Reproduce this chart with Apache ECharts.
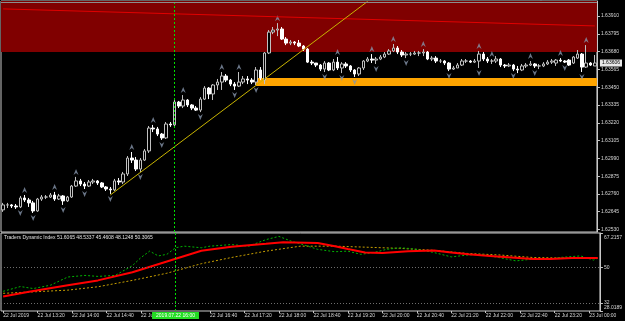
<!DOCTYPE html>
<html>
<head>
<meta charset="utf-8">
<style>
  html, body { margin: 0; padding: 0; background: #000; }
  #chart { width: 625px; height: 321px; }
</style>
<script src="https://cdn.jsdelivr.net/npm/echarts@6/dist/echarts.min.js"></script>
</head>
<body>
<div id="chart"></div>
<script>
  // GBPCAD M5, 22 Jul 12:40 -> 23 Jul 00:10 (139 bars)
  const opens = [1.62657,1.62689,1.62689,1.62682,1.62676,1.62734,1.62721,1.62702,1.62650,1.62727,
    1.62740,1.62740,1.62753,1.62727,1.62747,1.62715,1.62740,1.62811,1.62844,1.62824,
    1.62811,1.62837,1.62844,1.62831,1.62805,1.62792,1.62786,1.62844,1.62837,1.62889,
    1.62992,1.62979,1.62921,1.62979,1.63038,1.63186,1.63180,1.63147,1.63122,1.63212,
    1.63206,1.63354,1.63328,1.63367,1.63335,1.63315,1.63302,1.63373,1.63444,1.63406,
    1.63464,1.63483,1.63522,1.63496,1.63470,1.63457,1.63483,1.63503,1.63496,1.63483,
    1.63561,1.63496,1.63671,1.63806,1.63819,1.63826,1.63761,1.63735,1.63742,1.63735,
    1.63716,1.63696,1.63612,1.63606,1.63593,1.63567,1.63606,1.63561,1.63612,1.63574,
    1.63600,1.63587,1.63561,1.63535,1.63574,1.63619,1.63632,1.63625,1.63632,1.63645,
    1.63664,1.63684,1.63703,1.63677,1.63658,1.63664,1.63664,1.63671,1.63671,1.63677,
    1.63632,1.63638,1.63619,1.63619,1.63606,1.63567,1.63574,1.63593,1.63619,1.63619,
    1.63612,1.63619,1.63664,1.63632,1.63619,1.63619,1.63632,1.63593,1.63587,1.63593,
    1.63567,1.63561,1.63587,1.63593,1.63600,1.63587,1.63587,1.63600,1.63612,1.63606,
    1.63625,1.63619,1.63625,1.63606,1.63638,1.63664,1.63580,1.63606,1.63587];
  const closes = [1.62689,1.62689,1.62682,1.62676,1.62734,1.62721,1.62702,1.62650,1.62727,1.62740,
    1.62740,1.62753,1.62727,1.62747,1.62715,1.62740,1.62811,1.62844,1.62824,1.62811,
    1.62837,1.62844,1.62831,1.62805,1.62792,1.62786,1.62844,1.62837,1.62889,1.62992,
    1.62979,1.62921,1.62979,1.63038,1.63186,1.63180,1.63147,1.63122,1.63212,1.63206,
    1.63354,1.63328,1.63367,1.63335,1.63315,1.63302,1.63373,1.63444,1.63406,1.63464,
    1.63483,1.63522,1.63496,1.63470,1.63457,1.63483,1.63503,1.63496,1.63483,1.63561,
    1.63509,1.63671,1.63806,1.63819,1.63826,1.63761,1.63735,1.63742,1.63735,1.63716,
    1.63696,1.63612,1.63606,1.63593,1.63567,1.63606,1.63561,1.63612,1.63574,1.63600,
    1.63587,1.63561,1.63535,1.63574,1.63619,1.63632,1.63625,1.63632,1.63645,1.63664,
    1.63684,1.63703,1.63677,1.63658,1.63664,1.63664,1.63671,1.63671,1.63677,1.63632,
    1.63638,1.63619,1.63619,1.63606,1.63567,1.63574,1.63593,1.63619,1.63619,1.63612,
    1.63619,1.63664,1.63632,1.63619,1.63619,1.63632,1.63593,1.63587,1.63593,1.63567,
    1.63561,1.63587,1.63593,1.63600,1.63587,1.63587,1.63600,1.63612,1.63619,1.63625,
    1.63619,1.63612,1.63593,1.63645,1.63664,1.63580,1.63606,1.63593,1.63606];
  const lows = [1.62644,1.62669,1.62669,1.62663,1.62669,1.62708,1.62676,1.62637,1.62644,1.62715,
    1.62727,1.62734,1.62715,1.62721,1.62689,1.62708,1.62734,1.62805,1.62811,1.62792,
    1.62805,1.62824,1.62818,1.62798,1.62779,1.62760,1.62779,1.62818,1.62824,1.62876,
    1.62960,1.62908,1.62902,1.62973,1.63025,1.63160,1.63134,1.63109,1.63115,1.63193,
    1.63199,1.63315,1.63315,1.63322,1.63302,1.63296,1.63289,1.63367,1.63373,1.63367,
    1.63432,1.63432,1.63483,1.63457,1.63432,1.63451,1.63470,1.63470,1.63470,1.63464,
    1.63496,1.63470,1.63664,1.63793,1.63780,1.63755,1.63722,1.63722,1.63722,1.63709,
    1.63684,1.63606,1.63593,1.63580,1.63554,1.63548,1.63554,1.63554,1.63561,1.63541,
    1.63574,1.63548,1.63516,1.63522,1.63561,1.63612,1.63606,1.63600,1.63625,1.63638,
    1.63658,1.63677,1.63664,1.63645,1.63638,1.63651,1.63658,1.63651,1.63651,1.63625,
    1.63619,1.63606,1.63606,1.63593,1.63554,1.63561,1.63574,1.63587,1.63606,1.63606,
    1.63606,1.63574,1.63619,1.63606,1.63600,1.63606,1.63580,1.63574,1.63580,1.63554,
    1.63541,1.63554,1.63574,1.63587,1.63574,1.63567,1.63580,1.63593,1.63600,1.63587,
    1.63612,1.63606,1.63587,1.63600,1.63632,1.63548,1.63574,1.63587,1.63587];
  const highs = [1.62702,1.62702,1.62695,1.62695,1.62747,1.62753,1.62734,1.62715,1.62734,1.62753,
    1.62753,1.62766,1.62773,1.62760,1.62753,1.62747,1.62818,1.62870,1.62857,1.62837,
    1.62850,1.62857,1.62850,1.62837,1.62811,1.62805,1.62857,1.62863,1.62902,1.63005,
    1.63031,1.62999,1.62992,1.63050,1.63199,1.63206,1.63193,1.63154,1.63225,1.63225,
    1.63367,1.63361,1.63399,1.63373,1.63341,1.63328,1.63386,1.63457,1.63451,1.63470,
    1.63503,1.63548,1.63535,1.63503,1.63483,1.63548,1.63522,1.63522,1.63509,1.63580,
    1.63580,1.63677,1.63819,1.63839,1.63864,1.63839,1.63774,1.63755,1.63748,1.63755,
    1.63722,1.63703,1.63625,1.63606,1.63600,1.63619,1.63612,1.63632,1.63645,1.63612,
    1.63612,1.63593,1.63567,1.63580,1.63625,1.63645,1.63664,1.63645,1.63658,1.63677,
    1.63696,1.63729,1.63716,1.63690,1.63677,1.63677,1.63684,1.63684,1.63696,1.63684,
    1.63651,1.63651,1.63632,1.63625,1.63612,1.63587,1.63606,1.63632,1.63632,1.63625,
    1.63632,1.63684,1.63677,1.63645,1.63632,1.63651,1.63638,1.63600,1.63606,1.63600,
    1.63587,1.63600,1.63606,1.63619,1.63606,1.63600,1.63612,1.63625,1.63632,1.63632,
    1.63638,1.63625,1.63632,1.63651,1.63690,1.63671,1.63722,1.63612,1.63658];

  // bars carrying a fractal arrow
  const upFractalBars = [5, 12, 17, 30, 35, 42, 51, 55, 64, 78, 86, 91, 98, 111, 114, 123, 130, 136];
  const downFractalBars = [4, 7, 14, 19, 25, 32, 37, 46, 54, 59, 75, 79, 82, 87, 94, 104, 111, 119, 124, 131, 135];

  const priceTicks = [1.62530, 1.62645, 1.62760, 1.62875, 1.62990, 1.63105, 1.63220,
    1.63335, 1.63450, 1.63565, 1.63680, 1.63795, 1.63910];
  const priceMin = 1.62514;
  const priceMax = 1.64007;
  const bidPrice = 1.63606;

  // resistance zone, support band, trend lines
  const redZone = [1.63677, 1.64007];
  const orangeBand = [59, 1.63509, 1.63457];
  const trendLine = [[25, 1.62753], [85, 1.64004]];
  const redLine = [[0, 1.63956], [138, 1.63846]];
  const crossBar = 40;

  // time axis, a label every 8 bars
  const timeTicks = ['22 Jul 2019', '22 Jul 13:20', '22 Jul 14:00', '22 Jul 14:40', '22 Jul 15:20',
    '22 Jul 16:00', '22 Jul 16:40', '22 Jul 17:20', '22 Jul 18:00', '22 Jul 18:40', '22 Jul 19:20',
    '22 Jul 20:00', '22 Jul 20:40', '22 Jul 21:20', '22 Jul 22:00', '22 Jul 22:40', '22 Jul 23:20',
    '23 Jul 00:00'];

  // Traders Dynamic Index, [bar, value]
  const tdiGreen = [[0,37.9],[4,40.3],[7,39.3],[11,41.0],[15,45.1],[19,45.9],[22,45.4],[26,45.9],
    [30,50.8],[32,54.9],[34,58.1],[36,55.7],[38,56.5],[40,59.8],[42,60.6],[46,59.8],[48,60.6],
    [53,61.4],[57,60.6],[61,63.9],[64,65.5],[67,63.0],[69,61.8],[73,59.0],[77,57.8],[80,58.1],
    [83,56.5],[86,57.4],[89,59.0],[92,59.8],[94,59.5],[96,59.0],[100,57.4],[104,55.2],[108,56.2],
    [111,56.5],[115,54.9],[119,53.2],[123,54.1],[127,54.1],[129,54.9],[134,55.7],[137,53.6],[138,54.6]];
  const tdiRed = [[0,35.3],[6,37.7],[15,41.0],[22,43.4],[30,47.5],[38,52.9],[46,58.3],[53,60.3],
    [61,61.8],[65,62.6],[73,62.2],[77,60.6],[80,59.2],[84,57.4],[88,57.2],[94,58.0],[100,58.4],
    [104,57.4],[108,56.5],[113,55.7],[118,54.9],[123,54.1],[127,54.1],[132,54.6],[138,54.6]];
  const tdiYellow = [[0,36.9],[15,38.5],[22,40.2],[30,43.4],[38,47.0],[46,51.8],[53,54.9],[61,58.1],
    [69,60.6],[77,60.6],[84,60.1],[92,59.5],[100,58.5],[108,56.9],[115,56.2],[123,54.9],[131,54.6],[138,54.6]];
  const tdiLevels = [32, 50];
  const tdiMin = 28.0189;
  const tdiMax = 67.2157;
  const tdiTicks = [28.0189, 32, 50, 67.2157];
  const tdiTitle = 'Traders Dynamic Index 51.6065 48.5337 45.4608 48.1248 50.3065';

  const font = 'Liberation Sans';
  const gray = '#c8c8c8';
  const bars = opens.map((o, i) => i);
  const candles = opens.map((o, i) => [o, closes[i], lows[i], highs[i]]);

  const chart = echarts.init(document.getElementById('chart'));

  chart.setOption({
    backgroundColor: '#000000',
    animation: false,
    grid: [
      { left: 1, right: 24, top: 1, height: 231, show: true, borderColor: gray, borderWidth: 1 },
      { left: 1, right: 24, top: 233, height: 78, show: true, borderColor: gray, borderWidth: 1 }
    ],
    xAxis: [
      { type: 'category', gridIndex: 0, data: bars, axisLine: { show: false },
        axisTick: { show: false }, axisLabel: { show: false } },
      { type: 'category', gridIndex: 1, data: bars, axisLine: { show: false },
        axisTick: { show: true, alignWithLabel: true, length: 2, lineStyle: { color: gray },
          interval: (i) => i % 8 === 0 && i !== crossBar },
        axisLabel: { show: true, interval: (i) => i % 8 === 0 && i !== crossBar,
          formatter: (v, i) => timeTicks[i / 8], align: 'left', margin: 2,
          color: '#d8d8d8', fontSize: 5, fontFamily: font } }
    ],
    yAxis: [
      { type: 'value', gridIndex: 0, position: 'right', min: priceMin, max: priceMax,
        axisLine: { show: true, lineStyle: { color: gray } },
        axisTick: { show: true, customValues: priceTicks, length: 3, lineStyle: { color: gray } },
        axisLabel: { customValues: priceTicks, formatter: (v) => v.toFixed(5), margin: 4,
          color: '#d8d8d8', fontSize: 5, fontFamily: font },
        splitLine: { show: false } },
      { type: 'value', gridIndex: 1, position: 'right', min: tdiMin, max: tdiMax,
        axisLine: { show: true, lineStyle: { color: gray } },
        axisTick: { show: true, customValues: tdiTicks, length: 3, lineStyle: { color: gray } },
        axisLabel: { customValues: tdiTicks, margin: 4, color: '#d8d8d8', fontSize: 5, fontFamily: font,
          formatter: (v) => v === tdiMax ? '{t|' + v + '}' : v === tdiMin ? '{b|' + v + '}' : String(v),
          rich: {
            t: { padding: [9, 0, 0, 0], color: '#d8d8d8', fontSize: 5, fontFamily: font },
            b: { padding: [0, 0, 6, 0], color: '#d8d8d8', fontSize: 5, fontFamily: font }
          } },
        splitLine: { show: false } },
      // bid price tag on the price scale
      { type: 'value', gridIndex: 0, position: 'right', min: priceMin, max: priceMax,
        axisLine: { show: false }, axisTick: { show: false }, splitLine: { show: false },
        axisLabel: { customValues: [bidPrice], formatter: (v) => v.toFixed(5), margin: 3,
          color: '#000000', backgroundColor: '#e8e8e8', padding: [1, 2], fontSize: 5, fontFamily: font } }
    ],
    graphic: [
      { type: 'text', left: 4, top: 3, style: { text: '▼', fill: '#ffffff', fontSize: 4, fontFamily: font } },
      { type: 'text', left: 11, top: 3, style: { text: 'GBPCAD,M5', fill: '#ffffff', fontSize: 5, fontFamily: font } },
      { type: 'text', left: 539, top: 0, style: { text: '▼', fill: '#8090a0', fontSize: 4, fontFamily: font } },
      { type: 'text', left: 4, top: 235, style: { text: tdiTitle, fill: '#e0e0e0', fontSize: 5, fontFamily: font } }
    ],
    series: [
      {
        type: 'candlestick',
        xAxisIndex: 0, yAxisIndex: 0,
        data: candles,
        barWidth: 3,
        itemStyle: { color: '#000000', color0: '#ffffff', borderColor: '#c0c0c0', borderColor0: '#ffffff', borderWidth: 1 },
        markArea: {
          silent: true,
          data: [
            [{ yAxis: redZone[0], itemStyle: { color: '#800000' } }, { yAxis: redZone[1] }],
            [{ xAxis: orangeBand[0], yAxis: orangeBand[1], itemStyle: { color: '#ffa500' } }, { yAxis: orangeBand[2] }]
          ]
        },
        markLine: {
          silent: true,
          symbol: 'none',
          label: { show: false },
          data: [
            [{ coord: redLine[0], lineStyle: { color: '#e00000', width: 1, type: 'solid' } }, { coord: redLine[1] }],
            [{ coord: trendLine[0], lineStyle: { color: '#c8b400', width: 1, type: 'solid' } }, { coord: trendLine[1] }],
            { xAxis: crossBar, lineStyle: { color: '#00e000', width: 1, type: [2, 2] } },
            { yAxis: bidPrice, lineStyle: { color: '#8c8c8c', width: 1, type: 'solid' } }
          ]
        }
      },
      {
        type: 'scatter',
        xAxisIndex: 0, yAxisIndex: 0,
        data: upFractalBars.map((i) => [i, highs[i]]),
        symbol: 'path://M4,0 L8,9 L4,6 L0,9 Z',
        symbolSize: [5, 6],
        symbolOffset: [0, -5],
        itemStyle: { color: '#8494aa' },
        silent: true
      },
      {
        type: 'scatter',
        xAxisIndex: 0, yAxisIndex: 0,
        data: downFractalBars.map((i) => [i, lows[i]]),
        symbol: 'path://M0,0 L4,3 L8,0 L4,9 Z',
        symbolSize: [5, 6],
        symbolOffset: [0, 5],
        itemStyle: { color: '#8494aa' },
        silent: true
      },
      {
        type: 'line',
        xAxisIndex: 1, yAxisIndex: 1,
        data: tdiYellow,
        showSymbol: false,
        lineStyle: { color: '#c8a000', width: 1, type: [2, 2] },
        markLine: {
          silent: true, symbol: 'none', label: { show: false },
          lineStyle: { color: '#6e6e6e', width: 1, type: [1, 2] },
          data: tdiLevels.map((v) => ({ yAxis: v }))
        }
      },
      {
        type: 'line',
        xAxisIndex: 1, yAxisIndex: 1,
        data: tdiGreen,
        showSymbol: false,
        lineStyle: { color: '#00b400', width: 1, type: [2, 2] },
        markLine: {
          silent: true, symbol: 'none',
          lineStyle: { color: '#00e000', width: 1, type: [2, 2] },
          label: { show: true, position: 'start', distance: 1, formatter: '2019.07.22 16:00',
            color: '#ffffff', backgroundColor: '#22dd22', padding: [1, 4], fontSize: 5, fontFamily: font },
          data: [{ xAxis: crossBar }]
        }
      },
      {
        type: 'line',
        xAxisIndex: 1, yAxisIndex: 1,
        data: tdiRed,
        showSymbol: false,
        lineStyle: { color: '#ff0000', width: 2 }
      }
    ]
  });

  window.onresize = function () {
    chart.resize();
  };
</script>
</body>
</html>
